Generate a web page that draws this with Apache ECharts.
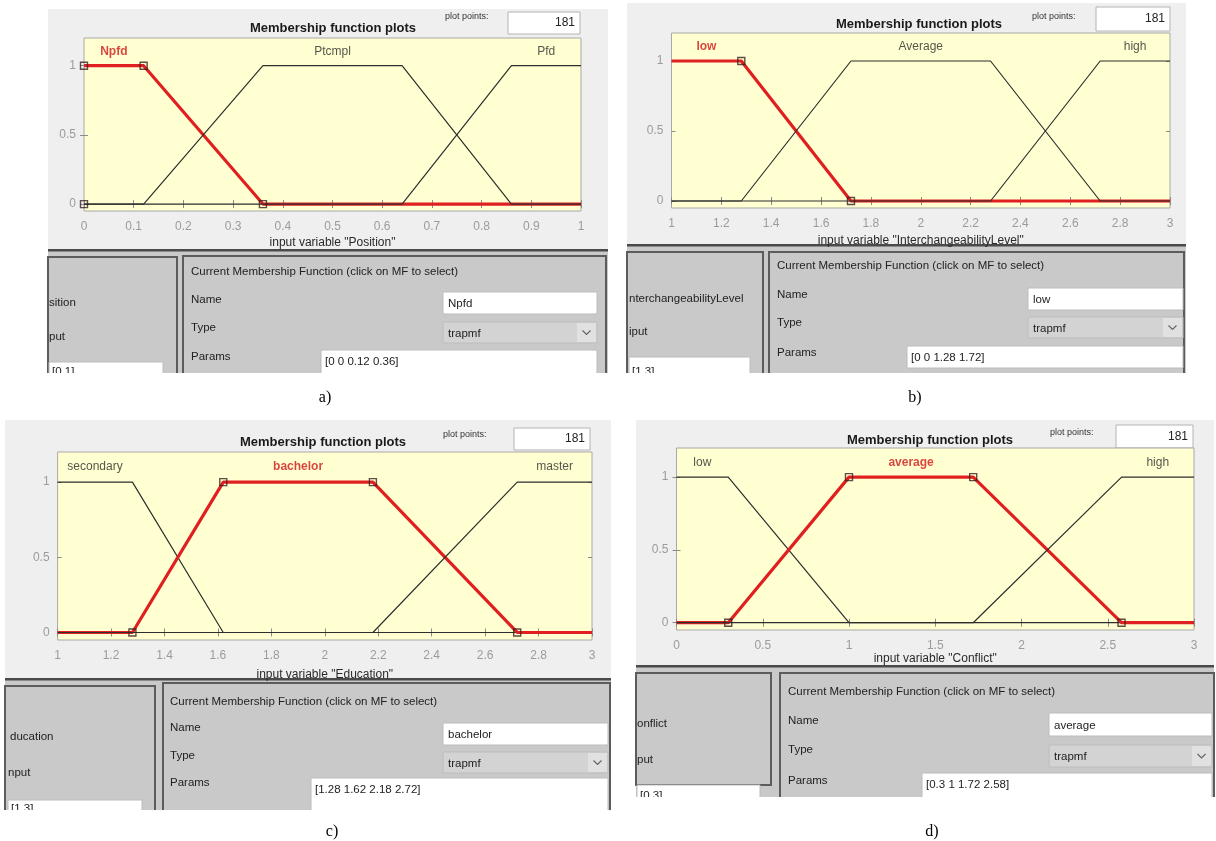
<!DOCTYPE html>
<html><head><meta charset="utf-8">
<script src="https://cdn.jsdelivr.net/npm/echarts@6/dist/echarts.min.js"></script>
<style>html,body{margin:0;padding:0;background:#fff}#c{width:1216px;height:841px}</style>
</head><body><div id="c"></div>
<script>
// ---------- DATA ----------
const plotPoints = 181;
const mfType = 'trapmf';
const yTicks = [0, 0.5, 1];
const yRange = [-0.05, 1.2];

// a) Position
const aVar = 'Position';
const aRange = [0, 1];
const aXTicks = [0, 0.1, 0.2, 0.3, 0.4, 0.5, 0.6, 0.7, 0.8, 0.9, 1];
const aMfNames = ['Npfd', 'Ptcmpl', 'Pfd'];
const aMfParams = [[0, 0, 0.12, 0.36], [0.12, 0.36, 0.64, 0.86], [0.64, 0.86, 1, 1]];
const aSelected = 0;

// b) InterchangeabilityLevel
const bVar = 'InterchangeabilityLevel';
const bRange = [1, 3];
const bXTicks = [1, 1.2, 1.4, 1.6, 1.8, 2, 2.2, 2.4, 2.6, 2.8, 3];
const bMfNames = ['low', 'Average', 'high'];
const bMfParams = [[0, 0, 1.28, 1.72], [1.28, 1.72, 2.28, 2.72], [2.28, 2.72, 3, 3]];
const bSelected = 0;

// c) Education
const cVar = 'Education';
const cRange = [1, 3];
const cXTicks = [1, 1.2, 1.4, 1.6, 1.8, 2, 2.2, 2.4, 2.6, 2.8, 3];
const cMfNames = ['secondary', 'bachelor', 'master'];
const cMfParams = [[1, 1, 1.28, 1.62], [1.28, 1.62, 2.18, 2.72], [2.18, 2.72, 3, 3]];
const cSelected = 1;

// d) Conflict
const dVar = 'Conflict';
const dRange = [0, 3];
const dXTicks = [0, 0.5, 1, 1.5, 2, 2.5, 3];
const dMfNames = ['low', 'average', 'high'];
const dMfParams = [[0, 0, 0.3, 1], [0.3, 1, 1.72, 2.58], [1.72, 2.58, 3, 3]];
const dSelected = 1;

// ---------- HELPERS ----------
const FONT = '"Liberation Sans", Arial, sans-serif';
const RED = '#e02020';
const BLACK = '#2e2e2e';

function trapVal(p, x) {
  const [a, b, c, d] = p;
  let up = x >= b ? 1 : (x < a ? 0 : (x - a) / (b - a));
  let down = x <= c ? 1 : (x > d ? 0 : (d - x) / (d - c));
  return Math.max(0, Math.min(up, down));
}
function trapPoints(p, r) {
  const xs = [r[0], ...p, r[1]].filter(x => x >= r[0] && x <= r[1]);
  const u = [...new Set(xs)].sort((m, n) => m - n);
  return u.map(x => [x, trapVal(p, x)]);
}
function trapVerts(p, r) {
  return [[p[0], 0], [p[1], 1], [p[2], 1], [p[3], 0]].filter(v => v[0] >= r[0] && v[0] <= r[1]);
}

const panels = [
  { vname: aVar, range: aRange, xt: aXTicks, names: aMfNames, params: aMfParams, sel: aSelected, rangeText: '[' + aRange.join(' ') + ']', frag1: 'sition', frag2: 'put',
    L: { bg: [48, 9, 560, 240], sep: 249, bot: 373, grid: [84, 38, 497, 173], title: [333, 28], pp: [445, 17], ppBox: [508, 12, 72, 22], gap: 26,
      lp: [48, 257, 129, 130], rp: [183, 256, 423, 130], cur: [191, 272], nl: [191, 300], nb: [443, 292, 154, 22], tl: [191, 328], tb: [443, 322, 154, 21],
      pl: [191, 357], pb: [321, 350, 276, 30], f1: [49, 303], f2: [49, 337], vb: [49, 362, 114, 20], cap: ['a)', 325, 398] } },
  { vname: bVar, range: bRange, xt: bXTicks, names: bMfNames, params: bMfParams, sel: bSelected, rangeText: '[' + bRange.join(' ') + ']', frag1: 'nterchangeabilityLevel', frag2: 'iput',
    L: { bg: [627, 3, 559, 241], sep: 244, bot: 373, grid: [671.5, 33, 498.5, 175], title: [919, 24], pp: [1032, 17], ppBox: [1096, 7, 74, 24], gap: 27,
      lp: [627, 252, 136, 130], rp: [769, 252, 415, 130], cur: [777, 266], nl: [777, 295], nb: [1028, 288, 155, 22], tl: [777, 323], tb: [1028, 317, 155, 21],
      pl: [777, 353], pb: [907, 346, 276, 22], f1: [629, 299], f2: [629, 332], vb: [629, 357, 121, 30], cap: ['b)', 915, 398] } },
  { vname: cVar, range: cRange, xt: cXTicks, names: cMfNames, params: cMfParams, sel: cSelected, rangeText: '[' + cRange.join(' ') + ']', frag1: 'ducation', frag2: 'nput',
    L: { bg: [5, 420, 606, 258], sep: 678, bot: 810, grid: [57.6, 452, 534.4, 188], title: [323, 442], pp: [443, 435], ppBox: [514, 428, 76, 22], gap: 29,
      lp: [5, 686, 150, 130], rp: [163, 683, 447, 130], cur: [170, 702], nl: [170, 728], nb: [443, 723, 165, 22], tl: [170, 756], tb: [443, 752, 165, 21],
      pl: [170, 783], pb: [311, 778, 297, 40], f1: [10, 737], f2: [8, 773], vb: [8, 800, 134, 30], cap: ['c)', 332, 832] } },
  { vname: dVar, range: dRange, xt: dXTicks, names: dMfNames, params: dMfParams, sel: dSelected, rangeText: '[' + dRange.join(' ') + ']', frag1: 'onflict', frag2: 'put',
    L: { bg: [636, 420, 578, 245], sep: 665, bot: 797, grid: [676.5, 448, 517.5, 182], title: [930, 440], pp: [1050, 433], ppBox: [1116, 425, 77, 23], gap: 21,
      lp: [636, 673, 135, 112], rp: [780, 673, 434, 130], cur: [788, 692], nl: [788, 721], nb: [1049, 713, 163, 23], tl: [788, 750], tb: [1049, 745, 163, 22],
      pl: [788, 781], pb: [922, 773, 290, 30], f1: [637, 724], f2: [637, 760], vb: [637, 785, 123, 30], cap: ['d)', 932, 832] } }
];

const G = [];
function rect(b, fill, stroke, lw, z) {
  G.push({ type: 'rect', silent: true, z: z === undefined ? -10 : z, shape: { x: b[0], y: b[1], width: b[2], height: b[3] },
    style: { fill: fill, stroke: stroke || 'none', lineWidth: lw || 0 } });
}
function text(t, x, y, o) {
  o = o || {};
  G.push({ type: 'text', silent: true, z: o.z || 50, style: { text: t, x: x, y: y, fill: o.color || '#222', fontSize: o.size || 12,
    fontFamily: o.family || FONT, fontWeight: o.weight || 'normal', align: o.align || 'left', verticalAlign: o.va || 'middle',
    textAlign: o.align || 'left', textVerticalAlign: o.va || 'middle' } });
}
function line(pts, stroke, lw, z) {
  G.push({ type: 'polyline', silent: true, z: z === undefined ? -8 : z, shape: { points: pts }, style: { stroke: stroke, lineWidth: lw, fill: 'none' } });
}

const grids = [], xAxes = [], yAxes = [], series = [];
panels.forEach((P, k) => {
  const L = P.L;
  // backgrounds
  rect([L.bg[0], L.bg[1], L.bg[2], L.sep - L.bg[1]], '#efefef');
  rect([L.bg[0], L.sep, L.bg[2], L.bot - L.sep], '#c9c9c9');
  rect([L.bg[0], L.sep, L.bg[2], 2], '#4a4a4a', null, 0, -9);
  rect([L.bg[0], L.sep + 2, L.bg[2], 1], '#8a8a8a', null, 0, -9);
  rect(L.lp, 'none', '#5c5c5c', 2, -8);
  rect(L.rp, 'none', '#5c5c5c', 2, -8);
  // top
  text('Membership function plots', L.title[0], L.title[1], { size: 13, weight: 'bold', align: 'center', color: '#1a1a1a' });
  text('plot points:', L.pp[0], L.pp[1], { size: 9, color: '#333' });
  rect(L.ppBox, '#ffffff', '#b4b4b4', 1, -8);
  text(String(plotPoints), L.ppBox[0] + L.ppBox[2] - 5, L.ppBox[1] + L.ppBox[3] / 2, { size: 12, align: 'right', color: '#222' });
  // bottom panel texts
  text('Current Membership Function (click on MF to select)', L.cur[0], L.cur[1], { size: 11.5, color: '#222' });
  text('Name', L.nl[0], L.nl[1], { size: 11.5 });
  rect(L.nb, '#ffffff', '#bcbcbc', 1, -8);
  text(P.names[P.sel], L.nb[0] + 5, L.nb[1] + L.nb[3] / 2 + 1, { size: 11.5 });
  text('Type', L.tl[0], L.tl[1], { size: 11.5 });
  rect(L.tb, '#d3d3d3', '#bdbdbd', 1, -8);
  rect([L.tb[0] + L.tb[2] - 20, L.tb[1] + 1, 19, L.tb[3] - 2], '#e1e1e1', null, 0, -7);
  const ax = L.tb[0] + L.tb[2] - 10.5, ay = L.tb[1] + L.tb[3] / 2;
  line([[ax - 4, ay - 2], [ax, ay + 2], [ax + 4, ay - 2]], '#666', 1.2, -6);
  text(mfType, L.tb[0] + 5, ay + 1, { size: 11.5 });
  text('Params', L.pl[0], L.pl[1], { size: 11.5 });
  rect(L.pb, '#ffffff', '#bcbcbc', 1, -8);
  text('[' + P.params[P.sel].join(' ') + ']', L.pb[0] + 4, L.pb[1] + 11.5, { size: 11.5 });
  text(P.frag1, L.f1[0], L.f1[1], { size: 11.5 });
  text(P.frag2, L.f2[0], L.f2[1], { size: 11.5 });
  rect(L.vb, '#ffffff', '#bcbcbc', 1, -8);
  text(P.rangeText, L.vb[0] + 3, L.bot - 7, { size: 11.5, va: 'top' });
  // cut cover
  rect([L.bg[0] - 2, L.bot, L.bg[2] + 6, 34], '#ffffff', null, 0, 80);
  // caption
  text(L.cap[0], L.cap[1], L.cap[2], { size: 16, family: '"Liberation Serif", "Times New Roman", serif', color: '#000', align: 'center', z: 90 });

  // grid and axes
  grids.push({ left: L.grid[0], top: L.grid[1], width: L.grid[2], height: L.grid[3], show: true, backgroundColor: '#ffffd2',
    borderColor: '#a9a9a9', borderWidth: 1, containLabel: false });
  const tickStyle = { show: true, inside: true, length: 4, lineStyle: { color: '#8a8a8a', width: 1 } };
  xAxes.push({ type: 'value', gridIndex: k, min: P.range[0], max: P.range[1], position: 'bottom',
    axisLine: { show: false }, splitLine: { show: false },
    axisTick: Object.assign({ customValues: P.xt }, tickStyle),
    axisLabel: { customValues: P.xt, color: '#9b9b9b', fontSize: 12, fontFamily: FONT, margin: 10, formatter: v => String(+v.toFixed(2)) },
    name: 'input variable "' + P.vname + '"', nameLocation: 'middle', nameGap: L.gap,
    nameTextStyle: { color: '#2a2a2a', fontSize: 12, fontFamily: FONT } });
  xAxes.push({ type: 'value', gridIndex: k, min: P.range[0], max: P.range[1], position: 'top',
    axisLine: { show: false }, splitLine: { show: false }, axisLabel: { show: false },
    axisTick: Object.assign({ customValues: P.xt }, tickStyle) });
  yAxes.push({ type: 'value', gridIndex: k, min: yRange[0], max: yRange[1], position: 'left',
    axisLine: { show: false }, splitLine: { show: false },
    axisTick: Object.assign({ customValues: yTicks }, tickStyle),
    axisLabel: { customValues: yTicks, color: '#9b9b9b', fontSize: 12, fontFamily: FONT, margin: 8, formatter: v => String(v) } });
  yAxes.push({ type: 'value', gridIndex: k, min: yRange[0], max: yRange[1], position: 'right',
    axisLine: { show: false }, splitLine: { show: false }, axisLabel: { show: false },
    axisTick: Object.assign({ customValues: yTicks }, tickStyle) });

  // series
  P.params.forEach((p, i) => {
    const s = i === P.sel;
    series.push({ type: 'line', xAxisIndex: 2 * k, yAxisIndex: 2 * k, data: trapPoints(p, P.range), symbol: 'none', silent: true,
      lineStyle: { color: s ? RED : BLACK, width: s ? 3.2 : 1.2 }, z: 3, animation: false });
  });
  const sp = P.params[P.sel];
  series.push({ type: 'scatter', xAxisIndex: 2 * k, yAxisIndex: 2 * k, data: trapVerts(sp, P.range), symbol: 'rect', symbolSize: 7, silent: true,
    itemStyle: { color: 'rgba(0,0,0,0)', borderColor: '#3a2020', borderWidth: 1.4 }, z: 6, animation: false });
  series.push({ type: 'scatter', xAxisIndex: 2 * k, yAxisIndex: 2 * k, symbolSize: 0, silent: true, z: 7, animation: false,
    data: P.names.map((n, i) => {
      const p = P.params[i];
      const xc = (Math.max(p[1], P.range[0]) + Math.min(p[2], P.range[1])) / 2;
      const s = i === P.sel;
      return { name: n, value: [xc, 1.1], label: { color: s ? '#d01818' : '#2a2a2a', fontWeight: s ? 'bold' : 'normal' } };
    }),
    label: { show: true, position: 'inside', formatter: '{b}', fontSize: 12, fontFamily: FONT } });
});

const chart = echarts.init(document.getElementById('c'), null, { renderer: 'canvas' });
chart.setOption({ animation: false, backgroundColor: '#ffffff', grid: grids, xAxis: xAxes, yAxis: yAxes, series: series, graphic: { elements: G } });
</script></body></html>
